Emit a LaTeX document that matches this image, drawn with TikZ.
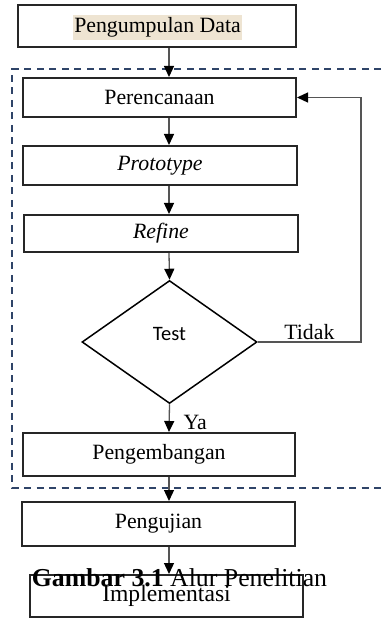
\documentclass[tikz,border=0pt]{standalone}
\usepackage{fontspec}
\setmainfont{Liberation Serif}
\newfontfamily\testfont{Carlito}
\usetikzlibrary{shapes.geometric,arrows.meta}
\definecolor{garis}{RGB}{47,68,104}
\definecolor{sorot}{RGB}{238,228,210}
\definecolor{panah}{RGB}{85,85,85}
\begin{document}
\begin{tikzpicture}[x=0.5pt,y=-0.5pt,
		kotak/.style={draw=black!85,line width=1pt,minimum width=136.5pt,minimum height=20pt,inner sep=0pt,font=\fontsize{10.9}{13}\selectfont},
		keputusan/.style={draw,shape=diamond,line width=0.75pt,minimum width=87.5pt,minimum height=61.5pt,inner sep=0pt},
		alir/.style={draw=panah,line width=0.65pt,-{Triangle[width=5pt,length=5.5pt,color=black]}},
		ket/.style={inner sep=1pt,font=\fontsize{10.9}{13}\selectfont}]
		\useasboundingbox (0,0) rectangle (381,619);

		\draw[garis,line width=1pt,dash pattern=on 3.5pt off 2.75pt] (381,69) -- (12,69) -- (12,488) -- (381,488);

		\coordinate (sumbu) at (169,0);
		\node[kotak,minimum width=139pt,minimum height=21pt] (data) at (156.5,26) {};
		\node[ket,fill=sorot,inner xsep=0.75pt,inner ysep=1.35pt] (datateks) at (157.5,27.5) {Pengumpulan Data};
		\node[kotak,minimum height=19.5pt] (rencana) at (159.5,97.5) {Perencanaan};
		\node[kotak,minimum width=137pt,minimum height=19.5pt] (proto) at (160,165.5) {\textit{Prototype}};
		\node[kotak,minimum width=137pt,minimum height=18.5pt] (refine) at (161,233.5) {\textit{Refine}};
		\node[keputusan] (test) at (169.5,342) {};
		\node[inner sep=0pt,font=\testfont\fontsize{10.25}{12}\selectfont] (testteks) at (169.5,334) {Test};
		\node[kotak,minimum width=136pt,minimum height=21.5pt] (kembang) at (159,454.5) {Pengembangan};
		\node[kotak,minimum height=22pt] (uji) at (158.5,524) {Pengujian};
		\node[kotak,minimum height=21pt,font=\fontsize{11.8}{14}\selectfont] (impl) at (166.5,596) {Implementasi};
		\node[inner sep=0pt,anchor=base,font=\fontsize{12.9}{15}\selectfont] (judul) at (179.5,586) {\textbf{Gambar 3.1} Alur Penelitian};

		\coordinate (belok) at (361,342);
		\draw[alir] (data.south -| sumbu) -- (rencana.north -| sumbu);
		\draw[alir] (rencana.south -| sumbu) -- (proto.north -| sumbu);
		\draw[alir] (proto.south -| sumbu) -- (refine.north -| sumbu);
		\draw[alir] (refine.south -| sumbu) -- (test.north);
		\draw[alir] (test.south) -- node[ket,pos=1,anchor=south west,xshift=6pt] (ya) {Ya} (kembang.north -| sumbu);
		\draw[alir] (kembang.south -| sumbu) -- (uji.north -| sumbu);
		\draw[alir] (uji.south -| sumbu) -- (impl.north -| sumbu);
		\draw[alir] (test.east) -- node[ket,above] (tidak) {Tidak} (belok) |- (rencana.east);
	\end{tikzpicture}
\end{document}
